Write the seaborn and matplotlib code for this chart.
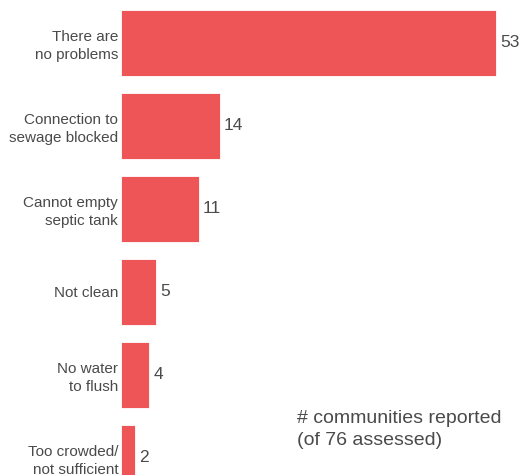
import matplotlib
matplotlib.use('Agg')
import matplotlib.pyplot as plt
import pandas as pd
import seaborn as sns

categories = [
    'There are\nno problems',
    'Connection to\nsewage blocked',
    'Cannot empty\nseptic tank',
    'Not clean',
    'No water\nto flush',
    'Too crowded/\nnot sufficient',
]
counts = [53, 14, 11, 5, 4, 2]

_BAR = '#EE5557'
_TEXT = '#4a4a4a'

sns.set_theme(style='white')
plt.rcParams['font.family'] = ['Liberation Sans', 'DejaVu Sans']

df = pd.DataFrame({'problem': categories, 'count': counts})

fig = plt.figure(figsize=(5.21, 4.75), dpi=100)
ax = fig.add_axes([121 / 521, 0, 400 / 521, 1])
sns.barplot(data=df, x='count', y='problem', orient='h', color=_BAR,
            saturation=1, width=0.8, edgecolor='white', linewidth=0.6, ax=ax)

ax.set_xlim(0, 56.5)
ax.set_ylim(5.205, -0.518)
ax.set_xlabel('')
ax.set_ylabel('')
ax.set_xticks([])
for s in ax.spines.values():
    s.set_visible(False)
ax.tick_params(axis='y', length=0, pad=2, labelsize=11, labelcolor=_TEXT)
for lbl in ax.get_yticklabels():
    lbl.set_horizontalalignment('right')
    lbl.set_linespacing(1.35)

for i, v in enumerate(counts):
    ax.text(v + 0.55, i, str(v), va='center', ha='left', fontsize=12.5, color=_TEXT)

fig.text(297 / 521, 1 - 410 / 475, '# communities reported\n(of 76 assessed)',
         ha='left', va='top', fontsize=14, color=_TEXT, linespacing=1.4)

fig.savefig('out.png', dpi=100)
